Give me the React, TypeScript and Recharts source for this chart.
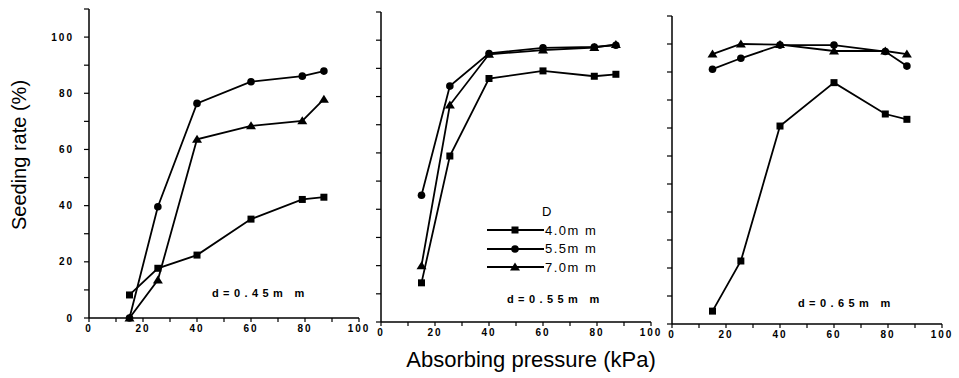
import { LineChart, Line, XAxis, YAxis } from 'recharts'

// absorbing pressure (kPa), shared by all three panels
const pressure = [15, 25.5, 40, 60, 79, 87]

// seeding rate (%) for hole diameter d = 0.45 mm
const d045_40 = [8.2, 17.7, 22.4, 35.2, 42.2, 43.0]
const d045_55 = [0, 39.6, 76.4, 84.1, 86.1, 87.9]
const d045_70 = [0, 13.5, 63.6, 68.4, 70.2, 77.9]

// d = 0.55 mm
const d055_40 = [13.9, 58.9, 86.4, 89.1, 87.2, 87.9]
const d055_55 = [45.0, 83.7, 95.3, 97.3, 97.6, 98.2]
const d055_70 = [20.0, 77.0, 95.0, 96.5, 97.4, 98.5]

// d = 0.65 mm
const d065_40 = [4.6, 22.5, 70.7, 86.2, 75.0, 73.1]
const d065_55 = [91.0, 94.9, 99.6, 99.6, 97.3, 92.1]
const d065_70 = [96.4, 100, 99.8, 97.5, 97.5, 96.4]

const xTicks = [0, 10, 20, 30, 40, 50, 60, 70, 80, 90, 100]
const yTicks = [0, 10, 20, 30, 40, 50, 60, 70, 80, 90, 100, 110]

const legendItems = ['4.0m m', '5.5m m', '7.0m m']

const FONT = '"Liberation Sans", Arial, sans-serif'

const toRows = (a: number[], b: number[], c: number[]) =>
  pressure.map((p, i) => ({ p, s40: a[i], s55: b[i], s70: c[i] }))

const rows045 = toRows(d045_40, d045_55, d045_70)
const rows055 = toRows(d055_40, d055_55, d055_70)
const rows065 = toRows(d065_40, d065_55, d065_70)

const Square = (props: any) => {
  const { cx, cy } = props
  if (cx == null || cy == null) return null
  return <rect x={cx - 3.5} y={cy - 3.5} width={7} height={7} fill="#000" />
}

const Circle = (props: any) => {
  const { cx, cy } = props
  if (cx == null || cy == null) return null
  return <circle cx={cx} cy={cy} r={3.8} fill="#000" />
}

const Triangle = (props: any) => {
  const { cx, cy } = props
  if (cx == null || cy == null) return null
  return <polygon points={`${cx},${cy - 4.5} ${cx + 5},${cy + 3.5} ${cx - 5},${cy + 3.5}`} fill="#000" />
}

const tickStyle = { fill: '#000', fontSize: 10, fontWeight: 700, letterSpacing: 2, fontFamily: FONT }

function Panel({ rows, left, width, yW, top, bottom, right, yLabels }: {
  rows: any[], left: number, width: number, yW: number, top: number, bottom: number, right: number, yLabels: boolean
}) {
  return (
    <div style={{ position: 'absolute', left, top: 0 }}>
      <LineChart width={width} height={378} data={rows} margin={{ top, right, bottom, left: 0 }}>
        <XAxis
          type="number"
          dataKey="p"
          domain={[0, 100]}
          ticks={xTicks}
          interval={0}
          tickFormatter={(v) => (v % 20 === 0 ? String(v) : '')}
          axisLine={{ stroke: '#000', strokeWidth: 1.5 }}
          tickLine={{ stroke: '#000', strokeWidth: 1.2 }}
          tickSize={4}
          tickMargin={3}
          height={30}
          tick={tickStyle}
        />
        <YAxis
          type="number"
          domain={[0, 110]}
          ticks={yTicks}
          interval={0}
          width={yW}
          tickFormatter={(v) => (yLabels && v % 20 === 0 && v <= 100 ? String(v) : '')}
          axisLine={{ stroke: '#000', strokeWidth: 1.5 }}
          tickLine={{ stroke: '#000', strokeWidth: 1.2 }}
          tickSize={5}
          tickMargin={10}
          tick={tickStyle}
        />
        <Line dataKey="s40" stroke="#000" strokeWidth={1.8} dot={<Square />} isAnimationActive={false} />
        <Line dataKey="s55" stroke="#000" strokeWidth={1.8} dot={<Circle />} isAnimationActive={false} />
        <Line dataKey="s70" stroke="#000" strokeWidth={1.8} dot={<Triangle />} isAnimationActive={false} />
      </LineChart>
    </div>
  )
}

const noteStyle = {
  position: 'absolute' as const,
  fontSize: 11,
  fontWeight: 700,
  letterSpacing: 4.4,
  whiteSpace: 'nowrap' as const,
  transform: 'translateY(-50%)',
}

export default function App() {
  const markers = [Square, Circle, Triangle]
  return (
    <div style={{ position: 'fixed', left: 0, top: 0, width: 959, height: 378, background: '#fff', fontFamily: FONT, color: '#000' }}>
      <Panel rows={rows045} left={0} width={380} yW={89} top={9} bottom={30} right={21} yLabels />
      <Panel rows={rows055} left={360} width={320} yW={21} top={12} bottom={26} right={29} yLabels={false} />
      <Panel rows={rows065} left={650} width={309} yW={22} top={16} bottom={24} right={17} yLabels={false} />

      <div style={{ position: 'absolute', left: 19, top: 155, fontSize: 20, whiteSpace: 'nowrap', transform: 'translate(-50%, -50%) rotate(-90deg)' }}>
        Seeding rate (%)
      </div>
      <div style={{ position: 'absolute', left: 531, top: 360, fontSize: 22, whiteSpace: 'nowrap', transform: 'translate(-50%, -50%)' }}>
        Absorbing pressure (kPa)
      </div>

      <div style={{ ...noteStyle, left: 212, top: 293 }}>d=0.45m m</div>
      <div style={{ ...noteStyle, left: 507, top: 299 }}>d=0.55m m</div>
      <div style={{ ...noteStyle, left: 798, top: 303 }}>d=0.65m m</div>

      <div style={{ position: 'absolute', left: 542, top: 211, fontSize: 13, transform: 'translateY(-50%)' }}>D</div>
      {legendItems.map((label, i) => {
        const M = markers[i]
        const y = 230 + i * 18.5
        return (
          <div key={label} style={{ position: 'absolute', left: 487, top: y - 8, height: 16, display: 'flex', alignItems: 'center' }}>
            <svg width={58} height={16}>
              <line x1={0} y1={8} x2={57} y2={8} stroke="#000" strokeWidth={1.8} />
              <M cx={28} cy={8} />
            </svg>
            <span style={{ fontSize: 13, letterSpacing: 1.5, whiteSpace: 'nowrap' }}>{label}</span>
          </div>
        )
      })}
    </div>
  )
}
